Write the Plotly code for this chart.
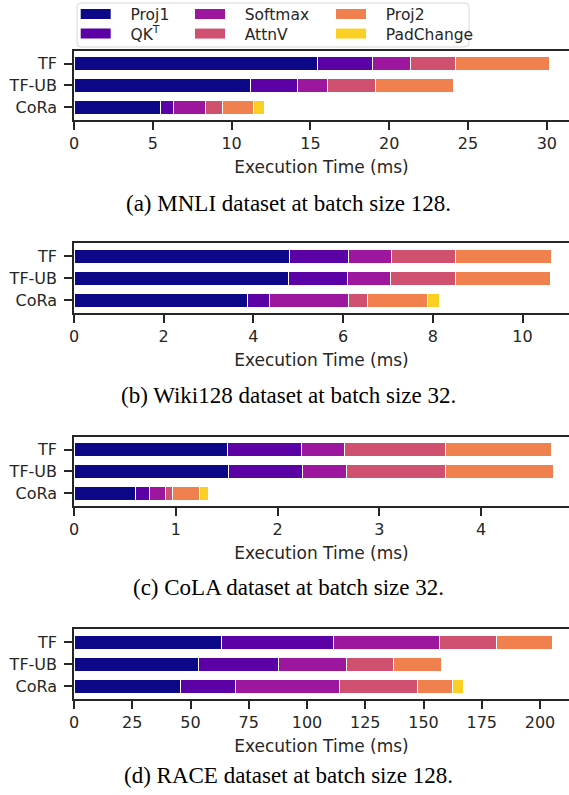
import plotly.graph_objects as go

W, H = 569, 795
OFF = 0  # page margin removed below, so page pixels == figure pixels

methods = ["TF", "TF-UB", "CoRa"]
ops = ["Proj1", "QK<sup>T</sup>", "Softmax", "AttnV", "Proj2", "PadChange"]
colors = ["#0d0887", "#5c01a6", "#9c179e", "#d0506f", "#f0804e", "#fccf25"]

# per-operation times (ms): Proj1, QK^T, Softmax, AttnV, Proj2, PadChange
MNLI_TF = [15.47, 3.48, 2.40, 2.83, 6.01, 0]
MNLI_TFUB = [11.19, 2.99, 1.91, 3.02, 4.97, 0]
MNLI_CORA = [5.50, 0.79, 2.07, 1.08, 1.96, 0.67]

WIKI_TF = [4.80, 1.33, 0.96, 1.42, 2.14, 0]
WIKI_TFUB = [4.79, 1.31, 0.96, 1.44, 2.13, 0]
WIKI_CORA = [3.86, 0.51, 1.75, 0.43, 1.34, 0.27]

COLA_TF = [1.51, 0.73, 0.42, 0.99, 1.04, 0]
COLA_TFUB = [1.52, 0.73, 0.43, 0.97, 1.06, 0]
COLA_CORA = [0.60, 0.14, 0.16, 0.07, 0.26, 0.09]

RACE_TF = [63.5, 47.8, 45.4, 24.6, 24.2, 0]
RACE_TFUB = [53.4, 34.2, 29.3, 20.1, 20.8, 0]
RACE_CORA = [45.5, 23.8, 44.5, 33.5, 15.2, 4.7]

captions = [
    "(a) MNLI dataset at batch size 128.",
    "(b) Wiki128 dataset at batch size 32.",
    "(c) CoLA dataset at batch size 32.",
    "(d) RACE dataset at batch size 128.",
]
x_dticks = [5, 2, 1, 25]
page_right = 569  # pixel where the axes get cut off
x_scale = [15.76, 44.85, 101.75, 2.33]  # px per unit, measured from reference

panels = [
    (MNLI_TF, MNLI_TFUB, MNLI_CORA),
    (WIKI_TF, WIKI_TFUB, WIKI_CORA),
    (COLA_TF, COLA_TFUB, COLA_CORA),
    (RACE_TF, RACE_TFUB, RACE_CORA),
]

# layout (pixels from top-left)
plot_top = [50.7, 243.3, 436.7, 629.3]
plot_bot = [120.0, 313.3, 506.0, 699.0]
caption_y = [203.5, 395.5, 587.0, 775.0]
left_px = 74


def px(x):
    return (x - OFF) / W


def py(y):
    return 1 - (y - OFF) / H


x_dom_right = px(page_right)
x_max = [(page_right - left_px) / s for s in x_scale]

ink = "#262626"
fig = go.Figure()

for p, (tf, tfub, cora) in enumerate(panels):
    ax = "" if p == 0 else str(p + 1)
    for j, op in enumerate(ops):
        vals = [tf[j], tfub[j], cora[j]]
        vals = [v if v > 0 else None for v in vals]
        fig.add_trace(go.Bar(
            x=vals, y=methods, orientation="h", name=op,
            marker=dict(color=colors[j], line=dict(color="white", width=1)),
            width=0.64, showlegend=False,
            xaxis="x" + ax, yaxis="y" + ax,
            hovertemplate=op + ": %{x}<extra></extra>",
        ))

# legend entries (one legend per entry to place them like the reference)
leg_pos = [(80.7, 14.5), (80.7, 34), (195, 14.5), (195, 34), (336, 14.5), (336, 34)]
for j, op in enumerate(ops):
    lname = "legend" if j == 0 else "legend%d" % (j + 1)
    fig.add_trace(go.Scatter(
        x=[None], y=[None], mode="lines", name="\u00a0\u00a0\u00a0" + op,
        line=dict(color=colors[j], width=10),
        legend=lname, xaxis="x", yaxis="y", showlegend=True,
    ))

layout = dict(
    width=W, height=H,
    margin=dict(l=0, r=0, t=0, b=0, autoexpand=False),
    paper_bgcolor="white", plot_bgcolor="white",
    barmode="stack",
    font=dict(family="DejaVu Sans", color=ink),
    annotations=[],
    shapes=[],
)

for p in range(4):
    ax = "" if p == 0 else str(p + 1)
    layout["xaxis" + ax] = dict(
        domain=[px(left_px), min(1, x_dom_right)], anchor="y" + ax,
        range=[0, x_max[p]], dtick=x_dticks[p], tick0=0,
        showline=True, linecolor=ink, linewidth=1.5, mirror=True,
        ticks="outside", ticklen=8, tickwidth=1.5, tickcolor=ink,
        showgrid=False, zeroline=False, automargin=False,
        tickfont=dict(size=16, color=ink),
        title=dict(text="Execution Time (ms)", font=dict(size=17, color=ink), standoff=9),
    )
    layout["yaxis" + ax] = dict(
        domain=[py(plot_bot[p]), py(plot_top[p])], anchor="x" + ax,
        type="category", categoryorder="array", categoryarray=methods,
        range=[2.59, -0.59],
        showline=True, linecolor=ink, linewidth=1.5, mirror=False,
        ticks="outside", ticklen=8, tickwidth=1.5, tickcolor=ink,
        showgrid=False, zeroline=False, automargin=False,
        tickfont=dict(size=16, color=ink),
        ticklabelstandoff=4,
    )
    layout["annotations"].append(dict(
        text=captions[p], xref="paper", yref="paper",
        x=px(288), y=py(caption_y[p]), xanchor="center", yanchor="middle",
        showarrow=False, font=dict(family="Liberation Serif", size=23, color="black"),
    ))

for j in range(6):
    lname = "legend" if j == 0 else "legend%d" % (j + 1)
    lx, ly = leg_pos[j]
    layout[lname] = dict(
        x=px(lx - 5), y=py(ly), xanchor="left", yanchor="middle",
        xref="paper", yref="paper",
        bgcolor="rgba(0,0,0,0)", borderwidth=0,
        font=dict(family="DejaVu Sans", size=15.5, color=ink),
        itemclick=False, itemdoubleclick=False,
    )

# rounded legend frame
bx0, bx1, by0, by1, r = 77, 469, 3, 47, 4
path = (
    f"M {px(bx0 + r)},{py(by0)} L {px(bx1 - r)},{py(by0)} "
    f"Q {px(bx1)},{py(by0)} {px(bx1)},{py(by0 + r)} "
    f"L {px(bx1)},{py(by1 - r)} Q {px(bx1)},{py(by1)} {px(bx1 - r)},{py(by1)} "
    f"L {px(bx0 + r)},{py(by1)} Q {px(bx0)},{py(by1)} {px(bx0)},{py(by1 - r)} "
    f"L {px(bx0)},{py(by0 + r)} Q {px(bx0)},{py(by0)} {px(bx0 + r)},{py(by0)} Z"
)
layout["shapes"].append(dict(
    type="path", path=path, xref="paper", yref="paper",
    line=dict(color="#d6d6d6", width=1), fillcolor="rgba(255,255,255,0.8)",
    layer="below",
))

fig.update_layout(**layout)
fig.write_html(
    "out.html",
    config={"displayModeBar": False},
    post_script="document.body.style.margin='0';document.body.style.overflow='hidden';",
)
